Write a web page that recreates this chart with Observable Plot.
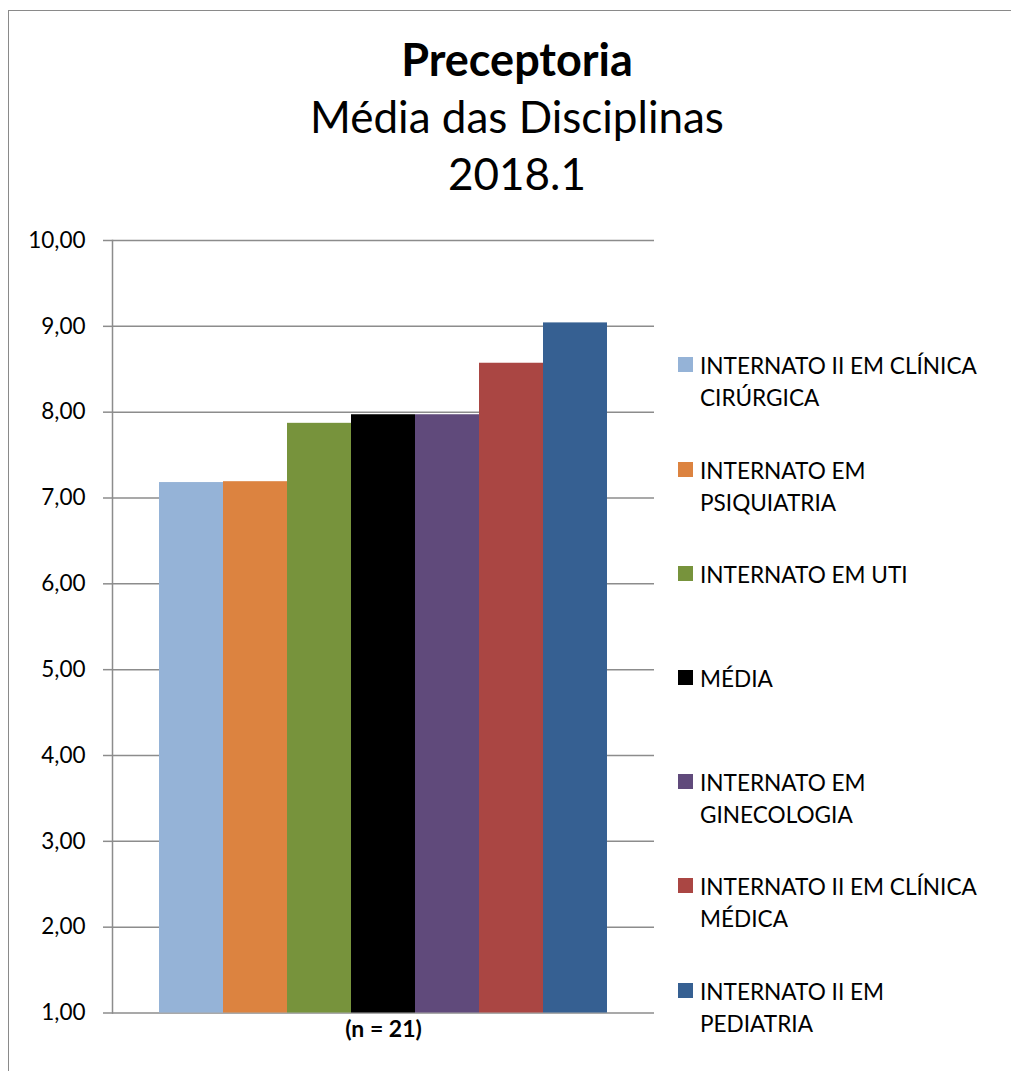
<!DOCTYPE html>
<html>
<head>
<meta charset="utf-8">
<script src="https://cdn.jsdelivr.net/npm/d3@7"></script>
<script src="https://cdn.jsdelivr.net/npm/@observablehq/plot@0.6"></script>
<style>
  html, body { margin: 0; padding: 0; background: #fff; }
  #root { position: relative; width: 1011px; height: 1071px; overflow: hidden; background: #fff; font-family: Lato, "Open Sans", sans-serif; color: #000; }
  #border { position: absolute; left: 8px; top: 10px; width: 1200px; height: 1200px; border-left: 1.5px solid #8a8a8a; border-top: 1.5px solid #8a8a8a; }
  #title { position: absolute; left: 0; width: 1034px; top: 31px; text-align: center; font-size: 44px; line-height: 57px; }
  #title .b { font-weight: bold; font-size: 45px; }
  #chart { position: absolute; left: 0; top: 215px; }
  #legend { position: absolute; left: 678px; top: 0; }
  .item { position: absolute; left: 0; width: 320px; }
  .sw { position: absolute; left: 0; width: 15px; height: 15px; }
  .lab { position: absolute; left: 22px; width: 300px; font-size: 22.6px; line-height: 32px; }
</style>
</head>
<body>
<div id="root">
  <div id="border"></div>
  <div id="title"></div>
  <div id="chart"></div>
  <div id="legend"></div>
</div>
<script>
const titleLines = ["Preceptoria", "Média das Disciplinas", "2018.1"];
const categories = [
  "INTERNATO II EM CLÍNICA CIRÚRGICA",
  "INTERNATO EM PSIQUIATRIA",
  "INTERNATO EM UTI",
  "MÉDIA",
  "INTERNATO EM GINECOLOGIA",
  "INTERNATO II EM CLÍNICA MÉDICA",
  "INTERNATO II EM PEDIATRIA"
];
const values = [7.18, 7.19, 7.87, 7.97, 7.97, 8.57, 9.04];
const colors = ["#95b3d7", "#dc8340", "#77933c", "#000000", "#604a7b", "#aa4643", "#366092"];
const yTicks = [1, 2, 3, 4, 5, 6, 7, 8, 9, 10];
const groupLabel = "(n = 21)";

const data = categories.map((c, i) => ({name: c, value: values[i]}));

// Title
const t = document.getElementById("title");
titleLines.forEach((s, i) => {
  const d = document.createElement("div");
  d.textContent = s;
  if (i === 0) d.className = "b";
  t.appendChild(d);
});

const fmt = d => d.toFixed(2).replace(".", ",");

const chart = Plot.plot({
  width: 700,
  height: 856,
  marginLeft: 112,
  marginRight: 46,
  marginTop: 25,
  marginBottom: 58.5,
  style: {fontFamily: "Lato, 'Open Sans', sans-serif", fontSize: "22px", color: "#000", background: "transparent"},
  x: {domain: categories, paddingInner: 0, paddingOuter: 0.734, axis: null},
  y: {domain: [1, 10], ticks: yTicks, axis: null},
  color: {domain: categories, range: colors},
  marks: [
    Plot.gridY(yTicks, {stroke: "#8c8c8c", strokeOpacity: 1, strokeWidth: 1.5}),
    Plot.barY(data, {x: "name", y1: 1, y2: "value", fill: "name"}),
    Plot.frame({anchor: "left", stroke: "#8c8c8c", strokeWidth: 1.5}),
    Plot.axisY(yTicks, {label: null, tickSize: 9, tickPadding: 18, stroke: "#8c8c8c", strokeWidth: 1.5, fill: "#000", tickFormat: fmt, fontSize: 22.5}),
    Plot.text([groupLabel], {text: d => d, frameAnchor: "bottom", dy: 24, fontWeight: "bold", fontSize: 23, fill: "#000"})
  ]
});
document.getElementById("chart").appendChild(chart);

// Legend
const legendTops = [357, 462, 566, 670, 774, 878, 983];
const lg = document.getElementById("legend");
categories.forEach((c, i) => {
  const item = document.createElement("div");
  item.className = "item";
  item.style.top = legendTops[i] + "px";
  const sw = document.createElement("div");
  sw.className = "sw";
  sw.style.background = colors[i];
  const lab = document.createElement("div");
  lab.className = "lab";
  lab.style.top = "-7px";
  lab.textContent = c;
  item.appendChild(sw);
  item.appendChild(lab);
  lg.appendChild(item);
});
</script>
</body>
</html>
